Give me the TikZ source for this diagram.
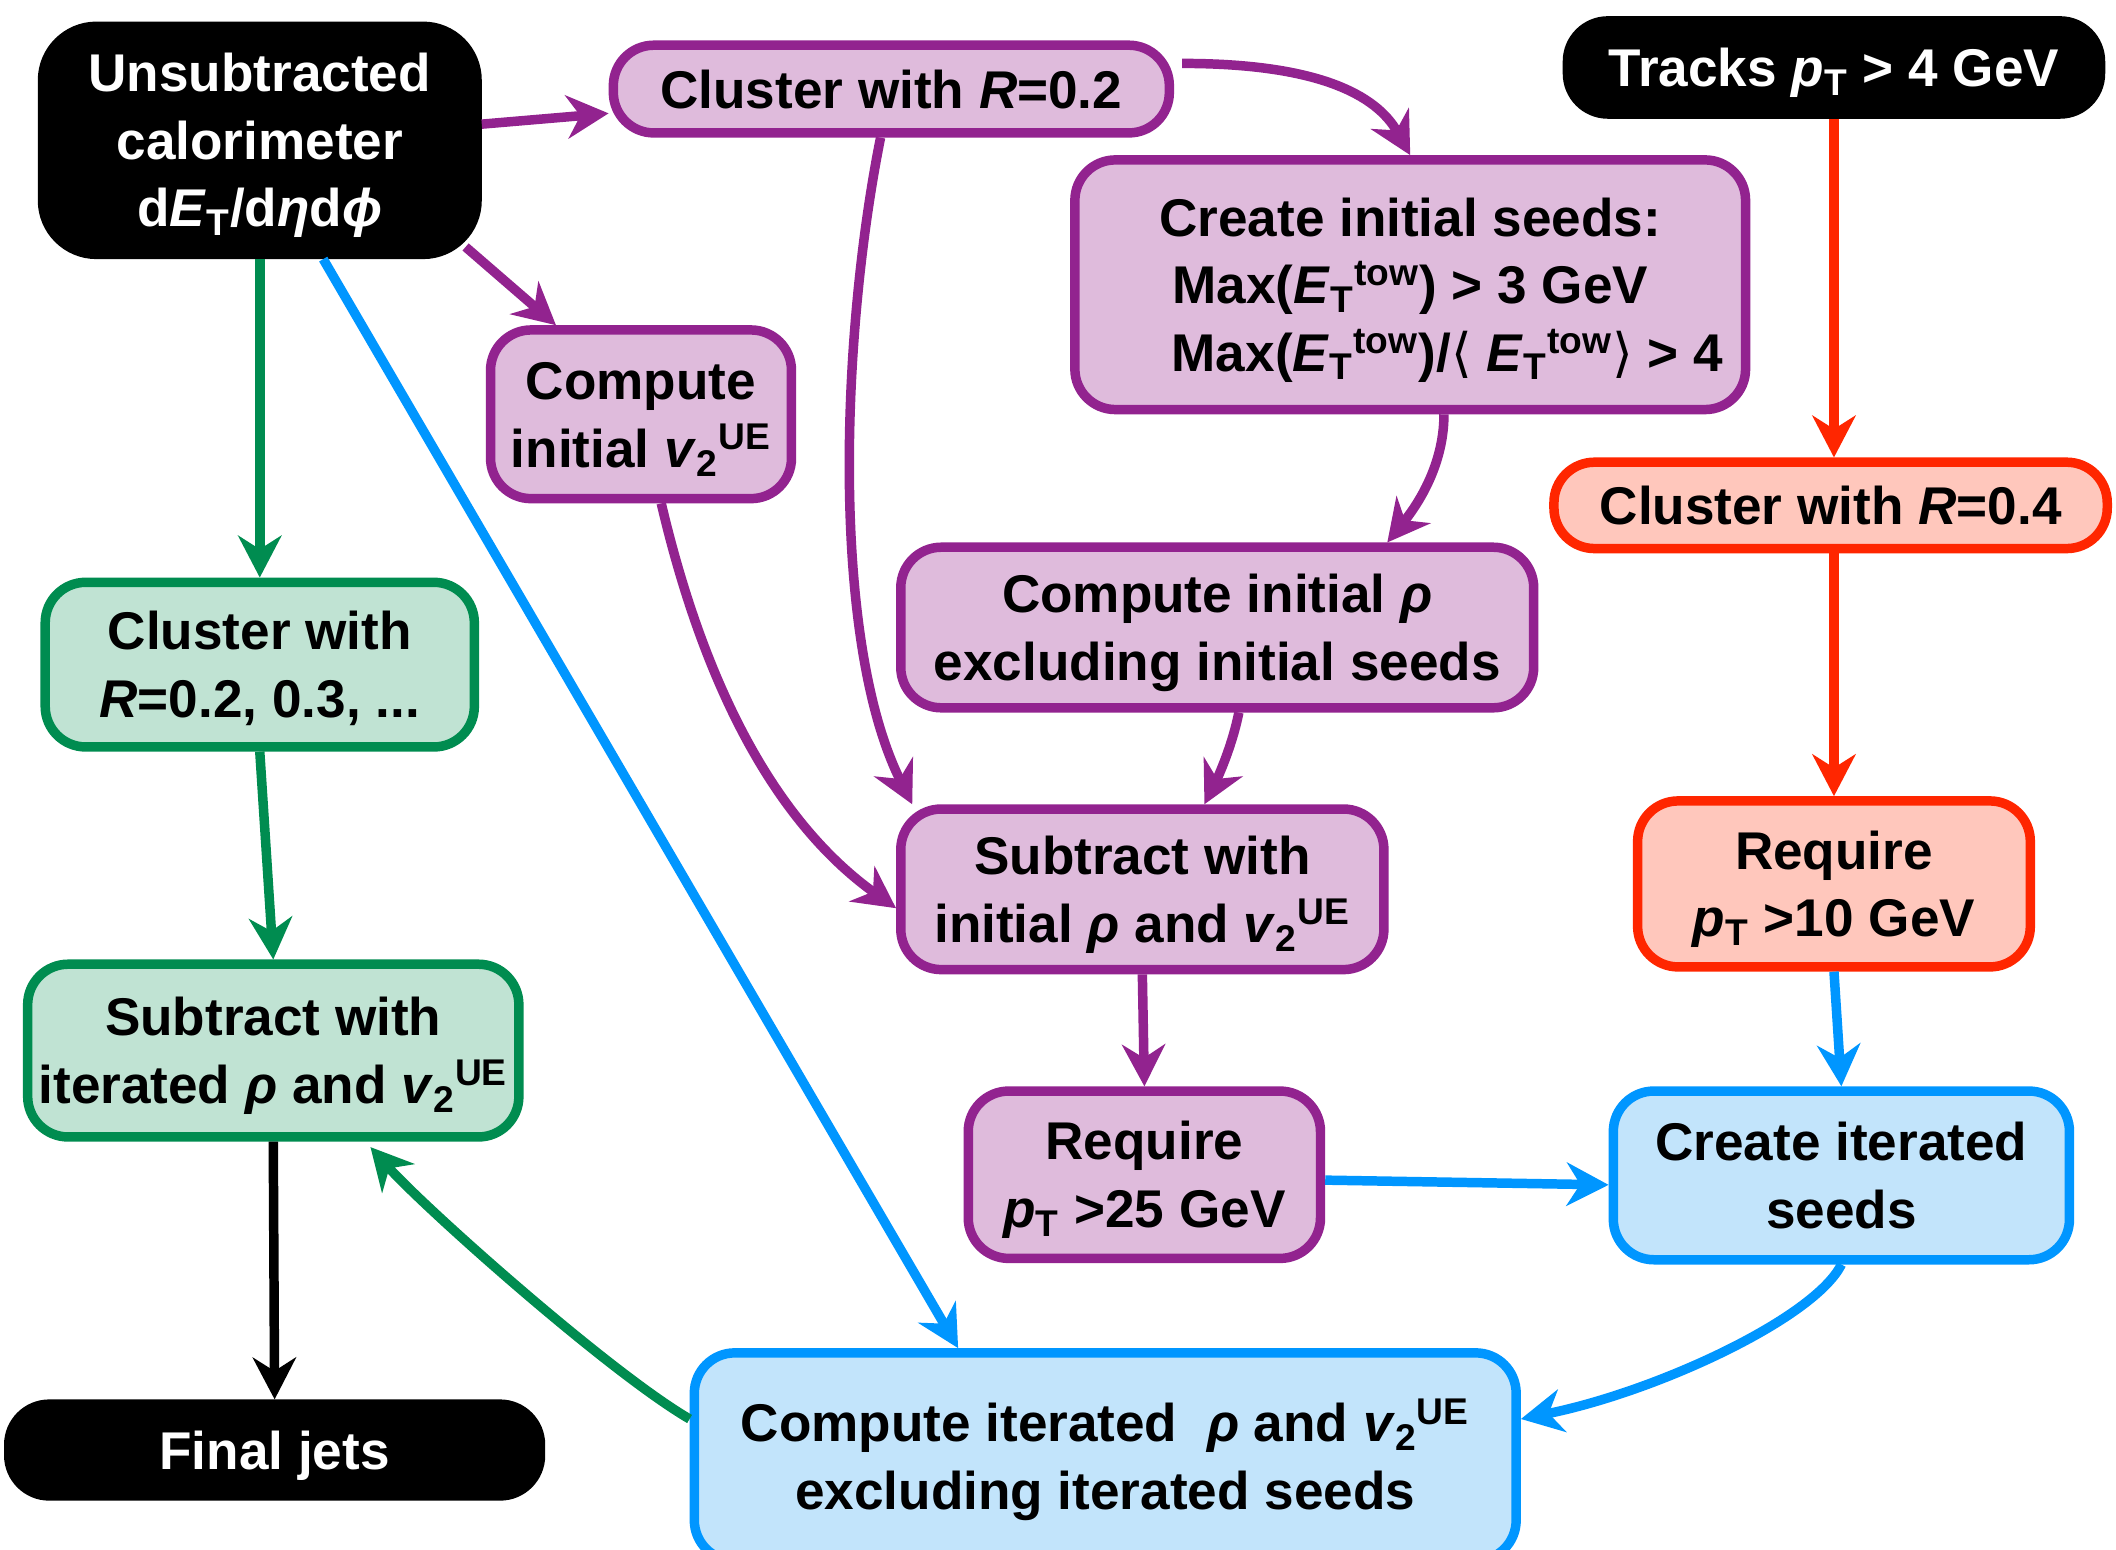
\documentclass[tikz,border=0pt]{standalone}
\usepackage{fontspec}
\setmainfont{Liberation Sans}
\newfontfamily\djv{DejaVu Sans}
\usetikzlibrary{arrows.meta,calc}
\definecolor{pborder}{RGB}{146,35,143}
\definecolor{pfill}{RGB}{223,187,220}
\definecolor{gborder}{RGB}{0,140,80}
\definecolor{gfill}{RGB}{192,227,211}
\definecolor{rborder}{RGB}{255,38,0}
\definecolor{rfill}{RGB}{255,199,188}
\definecolor{bborder}{RGB}{0,150,255}
\definecolor{bfill}{RGB}{194,228,251}
\newcommand{\sbT}{\textsubscript{T}}
\newcommand{\vtwo}{\textit{v}\textsubscript{2}\textsuperscript{UE}}
\newcommand{\ETtow}{\textit{E}\textsubscript{T}\textsuperscript{tow}}
\newcommand{\lang}{{\djv\mdseries ⟨}}
\newcommand{\rang}{{\djv\mdseries ⟩}}
\newcommand{\tx}[1]{\raisebox{-2.3pt}[\height][\depth]{\begin{tabular}{@{}c@{}}#1\end{tabular}}}
\tikzset{
  box/.style={rectangle, rounded corners=0.6cm, line width=4pt, align=center,
    font=\fontsize{22.4}{28.5}\selectfont\bfseries, inner sep=0pt},
  sz/.style 2 args={minimum width={#1*0.02cm-0.14cm}, minimum height={#2*0.02cm-0.14cm}},
  blackbox/.style={box, fill=black, draw=black, text=white, rounded corners=0.6cm},
  pbox/.style={box, fill=pfill, draw=pborder},
  gbox/.style={box, fill=gfill, draw=gborder},
  rbox/.style={box, fill=rfill, draw=rborder},
  bbox/.style={box, fill=bfill, draw=bborder},
  arr/.style={line width=4pt, -{Stealth[length=0.62cm,width=0.64cm,inset=0.2cm]}},
}
\begin{document}
\begin{tikzpicture}[x=0.02cm,y=-0.02cm]
\fill[white] (0,0) rectangle (1568,1148);
\useasboundingbox (0,0) rectangle (1568,1148);
% nodes
\node[blackbox, rounded corners=0.8cm, sz={329}{176}] (A) at (192.5,104) {\tx{Unsubtracted\\calorimeter\\d\textit{E}\sbT/d\textit{η}d\textit{ϕ}}};
\node[pbox, sz={419}{72}] (B) at (660.5,66) {\tx{Cluster with \textit{R}=0.2}};
\node[pbox, sz={504}{192}] (C) at (1045,211) {\tx{Create initial seeds:\\ Max(\ETtow) > 3 GeV\\ \hspace*{1.4em}Max(\ETtow)/\lang\ \ETtow\rang\ > 4}};
\node[blackbox, sz={402}{76}] (D) at (1359,50) {\tx{Tracks \textit{p}\sbT\ > 4 GeV}};
\node[pbox, sz={230}{132}] (E) at (475,307) {\tx{Compute\\initial \vtwo}};
\node[rbox, sz={417}{71}] (F) at (1356.5,374.5) {\tx{Cluster with \textit{R}=0.4}};
\node[pbox, sz={476}{126}] (G) at (902,465) {\tx{Compute initial \textit{ρ}\\excluding initial seeds}};
\node[gbox, sz={325}{129}] (H) at (192.5,492.5) {\tx{Cluster with\\\textit{R}=0.2, 0.3, ...}};
\node[pbox, sz={365}{126}] (I) at (846.5,659) {\tx{Subtract with\\initial \textit{ρ} and \vtwo}};
\node[rbox, sz={298}{130}] (J) at (1359,655) {\tx{Require\\\textit{p}\sbT\ >10 GeV}};
\node[gbox, sz={371}{135}] (K) at (202.5,778.5) {\tx{Subtract with\\iterated \textit{ρ} and \vtwo}};
\node[pbox, sz={268}{131}] (L) at (848,870.5) {\tx{Require\\\textit{p}\sbT\ >25 GeV}};
\node[bbox, sz={345}{132}] (M) at (1364.5,871) {\tx{Create iterated\\seeds}};
\node[blackbox, sz={401}{75}] (N) at (203.5,1074.5) {\tx{Final jets}};
\node[bbox, sz={616}{161}] (O) at (819,1079.5) {\tx{Compute iterated~ \textit{ρ} and \vtwo\\excluding iterated seeds}};
% connectors
\draw[arr, pborder] ($(A.east)+(0,-12)$) -- ($(B.west)+(0,18)$);
\draw[arr, pborder] ($(A.south east)+(-12,-9)$) -- ($(E.north west)+(52,0)$);
\draw[arr, gborder] (A.south) -- (H.north);
\draw[arr, bborder] ($(A.south)+(47,0)$) -- ($(O.north west)+(199,0)$);
\draw[arr, pborder] ($(B.east)+(6,-19)$) .. controls +(100,0) and +(-25,-45) .. (C.north);
\draw[arr, pborder] ($(B.south)+(-8,0)$) .. controls +(-30,150) and +(-60,-120) .. ($(I.north west)+(12,0)$);
\draw[arr, pborder] ($(C.south)+(25,0)$) .. controls +(0,40) and +(20,-25) .. ($(G.north)+(126,0)$);
\draw[arr, pborder] ($(E.south)+(15,0)$) .. controls +(40,170) and +(-70,-50) .. ($(I.west)+(0,14)$);
\draw[arr, pborder] ($(G.south)+(16,0)$) .. controls +(-5,25) and +(10,-20) .. ($(I.north)+(46,0)$);
\draw[arr, rborder] (D.south) -- (D.south |- F.north);
\draw[arr, rborder] (F.south -| J.north) -- (J.north);
\draw[arr, bborder] (J.south) -- (M.north);
\draw[arr, gborder] (H.south) -- (K.north);
\draw[arr, pborder] (I.south) -- (L.north);
\draw[arr, bborder] ($(L.east)+(0,4)$) -- ($(M.west)+(0,7)$);
\draw[arr, bborder] (M.south) .. controls +(-20,40) and +(100,-20) .. ($(O.east)+(0,-28)$);
\draw[arr, gborder] ($(O.west)+(0,-28)$) .. controls +(-60,-35) and +(40,45) .. ($(K.south)+(72,4)$);
\draw[arr, black] (K.south) -- (N.north);
\end{tikzpicture}
\end{document}
